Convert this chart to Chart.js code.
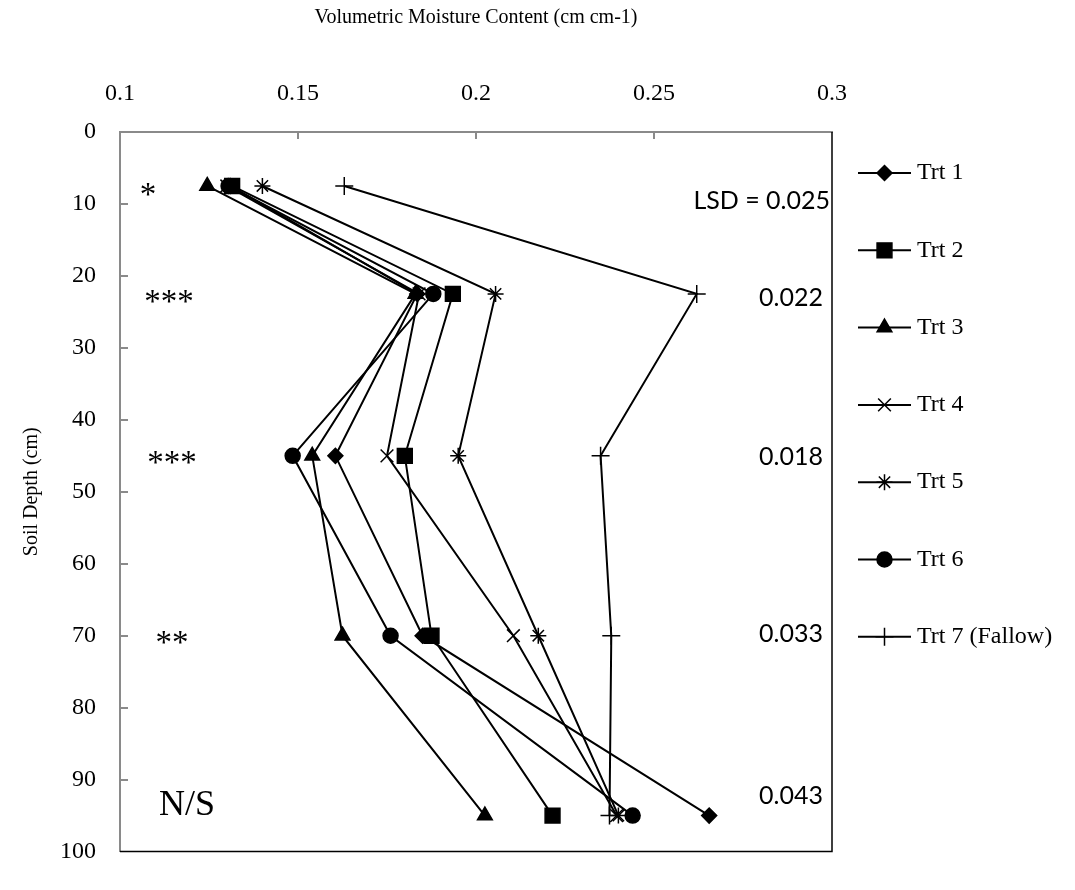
<!DOCTYPE html>
<html>
<head>
<meta charset="utf-8">
<script src="https://cdn.jsdelivr.net/npm/chart.js@4.4.1/dist/chart.umd.min.js"></script>
<style>
  html, body { margin: 0; padding: 0; background: #fff; }
  #wrap { width: 1075px; height: 890px; }
</style>
</head>
<body>
<div id="wrap"><canvas id="chart" width="1075" height="890"></canvas></div>
<script>
// sampled soil depths (cm)
const depths = [7.5, 22.5, 45, 70, 95];

// volumetric moisture content per treatment
const trt1 = [0.131, 0.1835, 0.1605, 0.185, 0.2655];
const trt2 = [0.1315, 0.1935, 0.180, 0.1875, 0.2215];
const trt3 = [0.1245, 0.183, 0.154, 0.1625, 0.2025];
const trt4 = [0.130, 0.184, 0.175, 0.2105, 0.2395];
const trt5 = [0.140, 0.2055, 0.195, 0.2175, 0.240];
const trt6 = [0.1305, 0.188, 0.1485, 0.176, 0.244];
const trt7 = [0.163, 0.262, 0.235, 0.238, 0.2375];

const seriesNames = ["Trt 1", "Trt 2", "Trt 3", "Trt 4", "Trt 5", "Trt 6", "Trt 7 (Fallow)"];
const seriesValues = [trt1, trt2, trt3, trt4, trt5, trt6, trt7];

// axis tick labels
const xTickLabels = ["0.1", "0.15", "0.2", "0.25", "0.3"];
const yTickLabels = ["0", "10", "20", "30", "40", "50", "60", "70", "80", "90", "100"];

// significance and LSD text per depth
const sigLabels = ["*", "***", "***", "**", "N/S"];
const lsdLabels = ["LSD = 0.025", "0.022", "0.018", "0.033", "0.043"];

// marker look for each series
const markerStyles = ["rectRot", "rect", "triangle", "crossRot", "star", "circle", "cross"];
const markerSizes = { rectRot: 7.5, rect: 10.5, triangle: 8.5, crossRot: 9, star: 8, circle: 7.5, cross: 9 };

const serif = "'Liberation Serif', 'Times New Roman', serif";
const axisGray = "#8a8a8a";

// build datasets
const datasets = seriesNames.map((name, i) => {
  const style = markerStyles[i];
  return {
    label: name,
    data: depths.map((d, j) => ({ x: seriesValues[i][j], y: d })),
    showLine: true,
    borderColor: "#000",
    borderWidth: 2,
    pointStyle: style,
    pointRadius: markerSizes[style],
    pointHoverRadius: markerSizes[style],
    pointBackgroundColor: "#000",
    pointBorderColor: "#000",
    pointBorderWidth: 1.5,
  };
});

// black right/bottom frame and inward tick marks
const framePlugin = {
  id: "frame",
  beforeDatasetsDraw(chart) {
    const { ctx, chartArea: a, scales } = chart;
    ctx.save();
    ctx.strokeStyle = "#000";
    ctx.lineWidth = 1.5;
    ctx.beginPath();
    ctx.moveTo(a.right, a.top);
    ctx.lineTo(a.right, a.bottom);
    ctx.lineTo(a.left, a.bottom);
    ctx.stroke();

    ctx.strokeStyle = axisGray;
    ctx.lineWidth = 2;
    ctx.beginPath();
    scales.x.ticks.forEach((t) => {
      const px = Math.round(scales.x.getPixelForValue(t.value));
      if (px > a.left + 2 && px < a.right - 2) {
        ctx.moveTo(px, a.top);
        ctx.lineTo(px, a.top + 7);
      }
    });
    scales.y.ticks.forEach((t) => {
      const py = Math.round(scales.y.getPixelForValue(t.value));
      if (py > a.top + 2 && py < a.bottom - 2) {
        ctx.moveTo(a.left, py);
        ctx.lineTo(a.left + 8, py);
      }
    });
    ctx.stroke();
    ctx.restore();
  },
};

// significance stars, LSD values and legend
const notesPlugin = {
  id: "notes",
  afterDraw(chart) {
    const { ctx, scales } = chart;
    ctx.save();
    ctx.fillStyle = "#000";

    // significance marks on the left
    const sigX = [148, 169, 172, 172, 187];
    const sigDy = [10, 9, 9, 9, -10];
    sigLabels.forEach((s, i) => {
      const y = scales.y.getPixelForValue(depths[i]) + sigDy[i];
      ctx.font = (s === "N/S" ? "36px " : "33px ") + serif;
      ctx.textAlign = "center";
      ctx.textBaseline = "middle";
      ctx.fillText(s, sigX[i], y);
    });

    // LSD values on the right
    const lsdDy = [15, 4, 1, -2, -20];
    lsdLabels.forEach((s, i) => {
      const y = scales.y.getPixelForValue(depths[i]) + lsdDy[i];
      ctx.font = "25px Lato, 'Liberation Sans', sans-serif";
      ctx.textAlign = "right";
      ctx.textBaseline = "middle";
      ctx.fillText(s, i === 0 ? 830 : 823, y);
    });

    // legend
    const x0 = 858, x1 = 911, y0 = 173, step = 77.3;
    chart.data.datasets.forEach((ds, i) => {
      const y = y0 + i * step;
      ctx.strokeStyle = "#000";
      ctx.fillStyle = "#000";
      ctx.lineWidth = 2;
      ctx.beginPath();
      ctx.moveTo(x0, y);
      ctx.lineTo(x1, y);
      ctx.stroke();
      ctx.lineWidth = ds.pointBorderWidth;
      Chart.helpers.drawPoint(ctx, {
        pointStyle: ds.pointStyle,
        radius: ds.pointRadius,
        rotation: 0,
        borderWidth: ds.pointBorderWidth,
      }, (x0 + x1) / 2, y);
      ctx.font = "24px " + serif;
      ctx.textAlign = "left";
      ctx.textBaseline = "middle";
      ctx.fillText(ds.label, 917, y);
    });
    ctx.restore();
  },
};

new Chart(document.getElementById("chart"), {
  type: "scatter",
  data: { datasets },
  plugins: [framePlugin, notesPlugin],
  options: {
    responsive: false,
    animation: false,
    layout: { padding: { left: 0, top: 0, right: 243, bottom: 15 } },
    plugins: {
      legend: { display: false },
      tooltip: { enabled: false },
    },
    scales: {
      x: {
        type: "linear",
        position: "top",
        min: 0.1,
        max: 0.3,
        ticks: {
          stepSize: 0.05,
          padding: 24,
          color: "#000",
          font: { family: serif, size: 24 },
          callback: (v) => xTickLabels[Math.round((v - 0.1) / 0.05)],
        },
        grid: { display: false, drawTicks: false },
        border: { display: true, color: axisGray, width: 2 },
        title: {
          display: true,
          text: "Volumetric Moisture Content (cm cm-1)",
          color: "#000",
          font: { family: serif, size: 20 },
          padding: { top: 6, bottom: 0 },
        },
        afterFit: (s) => { s.height = 132; },
      },
      y: {
        type: "linear",
        reverse: true,
        min: 0,
        max: 100,
        ticks: {
          stepSize: 10,
          padding: 24,
          color: "#000",
          font: { family: serif, size: 24 },
          callback: (v) => yTickLabels[Math.round(v / 10)],
        },
        grid: { display: false, drawTicks: false },
        border: { display: true, color: axisGray, width: 2 },
        title: {
          display: true,
          text: "Soil Depth (cm)",
          color: "#000",
          font: { family: serif, size: 20 },
          padding: { top: 20, bottom: 0 },
        },
        afterFit: (s) => { s.width = 120; },
      },
    },
  },
});
</script>
</body>
</html>
